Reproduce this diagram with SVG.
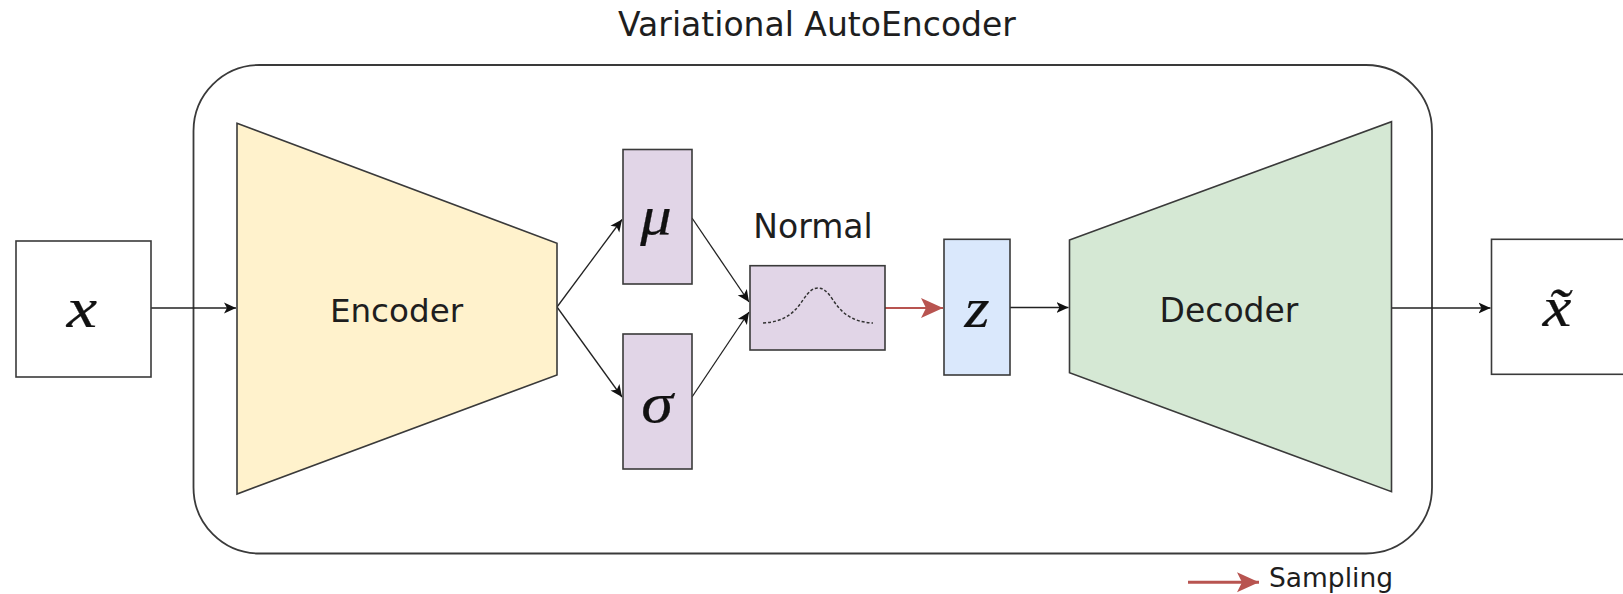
<svg xmlns="http://www.w3.org/2000/svg" width="1623" height="594" viewBox="0 0 1623 594">
  <style>
    .lbl { font-family: "DejaVu Sans", Verdana, sans-serif; fill: #1e1e1e; }
    .math { font-family: "Liberation Serif", "Times New Roman", serif; font-style: italic; fill: #111; stroke: #111; stroke-width: 0.25; font-size: 56px; text-anchor: middle; }
    .box { stroke: #3a3a3a; stroke-width: 1.6; }
    .edge { fill: none; stroke: #222; stroke-width: 1.3; }
    .sample { fill: none; stroke: #b85450; stroke-width: 2.2; }
  </style>
  <defs>
    <marker id="arrow" markerUnits="userSpaceOnUse" markerWidth="14" markerHeight="12" refX="12" refY="6" orient="auto">
      <path d="M0,0.5 L12,6 L0,11.5 L3,6 Z" fill="#111"/>
    </marker>
    <marker id="arrowRed" markerUnits="userSpaceOnUse" markerWidth="24" markerHeight="22" refX="22" refY="11" orient="auto">
      <path d="M0,1 L22,11 L0,21 L5,11 Z" fill="#b85450"/>
    </marker>
  </defs>

  <rect width="1623" height="594" fill="#ffffff"/>

  <!-- title -->
  <text class="lbl" x="817" y="36" font-size="33" text-anchor="middle">Variational AutoEncoder</text>

  <!-- container around the model -->
  <g id="vae">
    <rect x="193.5" y="65" width="1238.5" height="488.5" rx="66" ry="66" fill="none" stroke="#3a3a3a" stroke-width="1.8"/>
  </g>

  <!-- connectors -->
  <g id="connectors">
    <path class="edge" d="M151,308 L236,308" marker-end="url(#arrow)"/>
    <path class="edge" d="M557,307 L622,219.5" marker-end="url(#arrow)"/>
    <path class="edge" d="M557,307 L622,397" marker-end="url(#arrow)"/>
    <path class="edge" d="M692,218 L749,302" marker-end="url(#arrow)"/>
    <path class="edge" d="M692,397 L749,312" marker-end="url(#arrow)"/>
    <path class="sample" d="M885,308 L943,308" marker-end="url(#arrowRed)"/>
    <path class="edge" d="M1010,307.5 L1068.5,307.5" marker-end="url(#arrow)"/>
    <path class="edge" d="M1391.5,308 L1490.5,308" marker-end="url(#arrow)"/>
  </g>

  <g id="input">
    <rect class="box" x="16" y="241" width="135" height="136" fill="#ffffff"/>
    <text class="math" transform="translate(82,326.5) scale(1.22,1)">x</text>
  </g>

  <g id="encoder">
    <polygon class="box" points="237,123.3 557,243.3 557,375 237,494" fill="#fff2cc"/>
    <text class="lbl" x="396.5" y="322" font-size="32.6" text-anchor="middle">Encoder</text>
  </g>

  <g id="mu">
    <rect class="box" x="623" y="149.5" width="69" height="134.5" fill="#e1d5e7"/>
    <text class="math" transform="translate(656,234) scale(1.12,1)">μ</text>
  </g>

  <g id="sigma">
    <rect class="box" x="623" y="334" width="69" height="135" fill="#e1d5e7"/>
    <text class="math" transform="translate(657,422) scale(1.15,1)">σ</text>
  </g>

  <g id="normal">
    <text class="lbl" x="813" y="238" font-size="33" text-anchor="middle">Normal</text>
    <rect class="box" x="750" y="265.7" width="135" height="84.3" fill="#e1d5e7"/>
    <path d="M763,323 C785,322 795,312 803,300 C809,291 813,288 818,288 C823,288 827,291 833,300 C841,312 851,322 873,323" fill="none" stroke="#333" stroke-width="1.5" stroke-dasharray="3 2"/>
  </g>

  <g id="z">
    <rect class="box" x="944" y="239.3" width="66" height="135.7" fill="#dae8fc"/>
    <text class="math" transform="translate(977,326.5) scale(1.15,1)">z</text>
  </g>

  <g id="decoder">
    <polygon class="box" points="1069.5,240 1391.5,121.7 1391.5,491.7 1069.5,372.7" fill="#d5e8d4"/>
    <text class="lbl" x="1229" y="322" font-size="33" text-anchor="middle">Decoder</text>
  </g>

  <g id="output">
    <rect class="box" x="1491.5" y="239.3" width="150" height="135" fill="#ffffff"/>
    <text class="math" transform="translate(1557,326) scale(1.15,1)">x̃</text>
  </g>

  <!-- legend -->
  <g id="legend">
    <path d="M1188,582.3 L1259,582.3" fill="none" stroke="#b85450" stroke-width="3" marker-end="url(#arrowRed)"/>
    <text class="lbl" x="1269" y="587" font-size="26.5">Sampling</text>
  </g>
</svg>
